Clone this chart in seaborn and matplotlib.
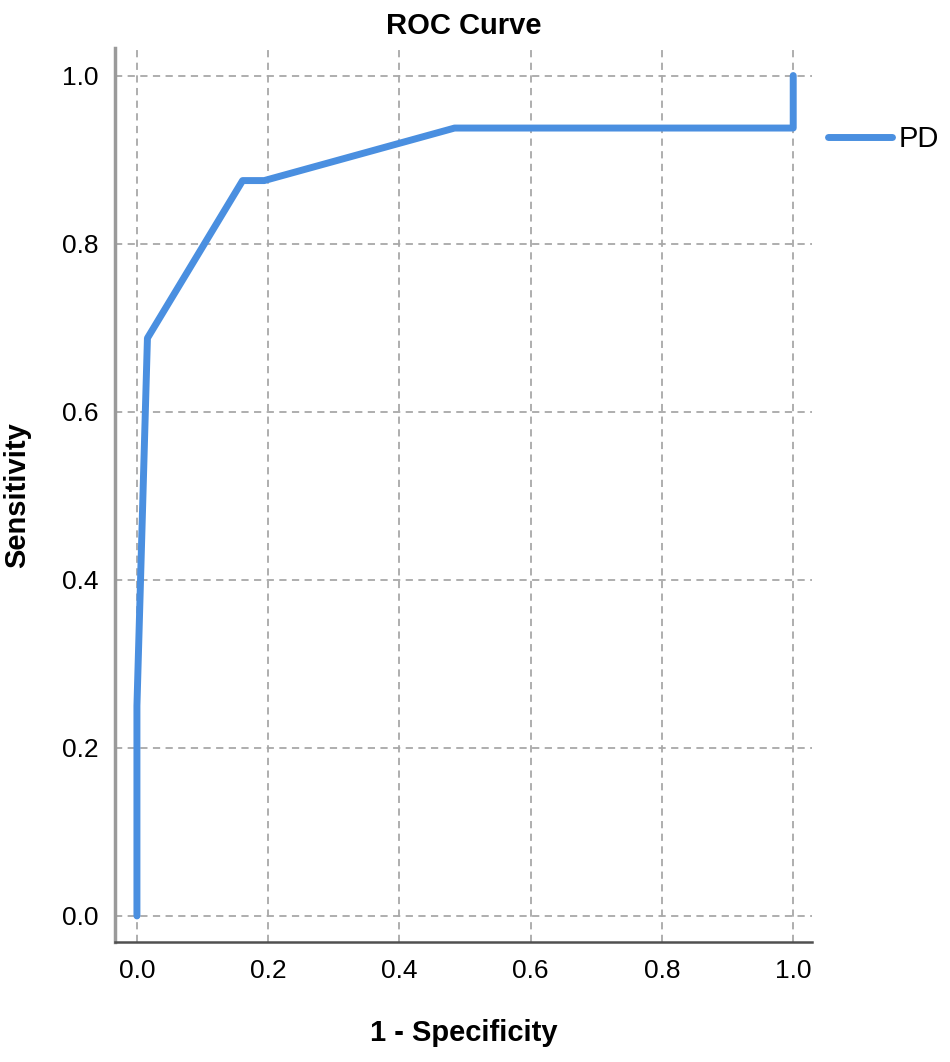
import pandas as pd
import matplotlib.pyplot as plt
import seaborn as sns

# ROC points
fpr = [0.0, 0.0, 0.016, 0.161, 0.194, 0.484, 1.0, 1.0]
tpr = [0.0, 0.25, 0.6875, 0.875, 0.875, 0.9375, 0.9375, 1.0]
ticks = [0.0, 0.2, 0.4, 0.6, 0.8, 1.0]
tick_labels = ["0.0", "0.2", "0.4", "0.6", "0.8", "1.0"]

df = pd.DataFrame({"fpr": fpr, "tpr": tpr})

sns.set_style("white")
plt.rcParams['font.family'] = ['Liberation Sans', 'DejaVu Sans']
plt.rcParams['text.color'] = 'black'
plt.rcParams['axes.labelcolor'] = 'black'

fig = plt.figure(figsize=(9.5, 10.62), dpi=100)
ax = fig.add_axes([0.121, 0.113, 0.734, 0.842])

sns.lineplot(data=df, x="fpr", y="tpr", sort=False, estimator=None,
             color="#4a8fe0", linewidth=5, label="PD", ax=ax)

ax.set_xlim(-0.0335, 1.029)
ax.set_ylim(-0.031, 1.033)
ax.set_xticks(ticks)
ax.set_xticklabels(tick_labels)
ax.set_yticks(ticks)
ax.set_yticklabels(tick_labels)
ax.tick_params(axis="both", length=0, labelsize=19, colors="black", pad=12)

ax.grid(True, linestyle=(0, (4, 3)), color="#a8a8a8", linewidth=1.3)
ax.set_axisbelow(True)

for side in ["top", "right"]:
    ax.spines[side].set_visible(False)
ax.spines["left"].set_color("#9a9a9a")
ax.spines["left"].set_linewidth(2.5)
ax.spines["bottom"].set_color("#505050")
ax.spines["bottom"].set_linewidth(1.8)

ax.set_title("ROC Curve", fontsize=21, fontweight="bold", pad=10)
ax.set_xlabel("1 - Specificity", fontsize=21, fontweight="bold", labelpad=26)
ax.set_ylabel("Sensitivity", fontsize=21, fontweight="bold", labelpad=22)

leg = ax.legend(loc="center left", bbox_to_anchor=(1.022, 0.898), frameon=False,
                fontsize=21, handlelength=2.2, handletextpad=0.22,
                borderaxespad=0, borderpad=0)

fig.savefig("out.png", dpi=100)
